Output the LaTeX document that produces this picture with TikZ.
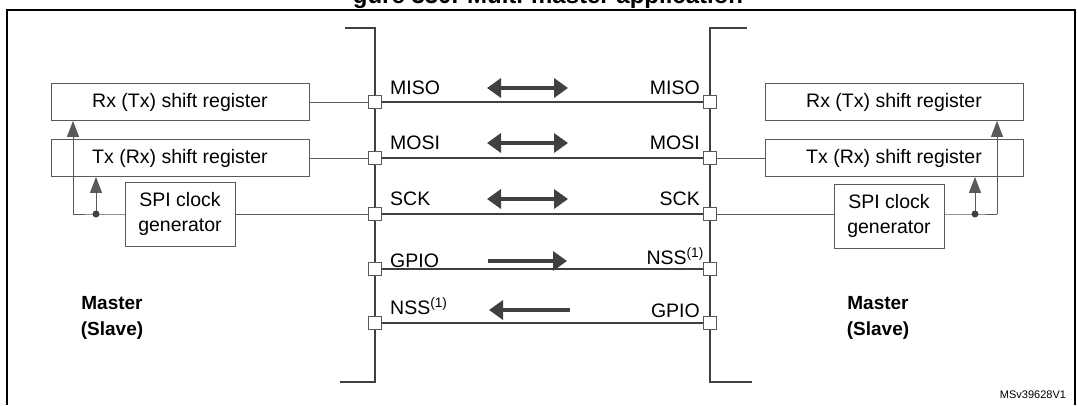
\documentclass[tikz,border=0pt]{standalone}
\usepackage{fontspec}
\setmainfont{Liberation Sans}
\usetikzlibrary{arrows.meta,positioning}
\definecolor{wire}{rgb}{0.35,0.35,0.35}
\definecolor{bus}{rgb}{0.25,0.25,0.25}
\tikzset{
  regbox/.style={draw=wire,line width=0.9pt,minimum width=258pt,minimum height=37pt,font=\fontsize{19.5}{21}\selectfont},
  clkbox/.style={draw=wire,line width=0.9pt,minimum width=110pt,minimum height=64pt,align=center,inner sep=1pt,font=\fontsize{19.5}{25}\selectfont},
  pin/.style={draw=wire,fill=white,line width=0.8pt,minimum size=13pt,inner sep=0pt},
  sig/.style={font=\fontsize{19.5}{21}\selectfont,inner sep=1pt},
  wire/.style={draw=wire,line width=0.9pt},
  link/.style={draw=bus,line width=1.6pt},
  flow/.style={draw=bus,line width=4pt,-{Triangle[length=14pt,width=19pt]}},
  flows/.style={draw=bus,line width=4pt,{Triangle[length=14pt,width=19pt]}-{Triangle[length=14pt,width=19pt]}},
  tip/.style={wire,-{Triangle[length=16pt,width=12pt]}},
  role/.style={font=\bfseries\fontsize{19}{26}\selectfont,align=center}
}
\newcommand{\one}{\textsuperscript{(1)}}
\begin{document}
\begin{tikzpicture}[x=1pt,y=-1pt]
\useasboundingbox (0,0) rectangle (1077,405);

%Title and frame
\node (title) at (548,-3) {\bfseries\fontsize{24}{26}\selectfont gure 330. Multi-master application};
\draw [line width=1.4pt] (7,405) -- (7,10) -- (1075,10) -- (1075,405);

%Buses
\draw [link] (345,28) -- (375,28) -- (375,382) -- (340,382);
\draw [link] (747,28) -- (710,28) -- (710,382) -- (752,382);

%Pins
\foreach \n/\y in {a/102,b/158,c/214,d/269,e/323}{
  \node [pin] (L\n) at (375,\y) {};
  \node [pin] (R\n) at (710,\y) {};
  \draw [link] (L\n.east) -- (R\n.west);
}

%Signal names
\node [sig,anchor=west] (lmiso) at (389,88) {MISO};
\node [sig,anchor=west] (lmosi) at (389,143) {MOSI};
\node [sig,anchor=west] (lsck) at (389,199) {SCK};
\node [sig,anchor=west] (lgpio) at (389,261) {GPIO};
\node [sig,anchor=west] (lnss) at (389,306) {NSS\one};
\node [sig,anchor=east] (rmiso) at (701,88) {MISO};
\node [sig,anchor=east] (rmosi) at (701,143) {MOSI};
\node [sig,anchor=east] (rsck) at (701,199) {SCK};
\node [sig,anchor=east] (rnss) at (705,256) {NSS\one};
\node [sig,anchor=east] (rgpio) at (701,311) {GPIO};

%Direction arrows
\coordinate (fa1) at (487,88);  \coordinate (fa2) at (568,88);
\coordinate (fb1) at (487,143); \coordinate (fb2) at (568,143);
\coordinate (fc1) at (487,199); \coordinate (fc2) at (568,199);
\coordinate (fd1) at (488,261); \coordinate (fd2) at (567,261);
\coordinate (fe1) at (570,310); \coordinate (fe2) at (489,310);
\draw [flows] (fa1) -- (fa2);
\draw [flows] (fb1) -- (fb2);
\draw [flows] (fc1) -- (fc2);
\draw [flow] (fd1) -- (fd2);
\draw [flow] (fe1) -- (fe2);

%Left device
\node [regbox] (lrx) at (180,102) {Rx (Tx) shift register};
\node [regbox] (ltx) at (180,158) {Tx (Rx) shift register};
\node [clkbox] (lclk) at (180,214) {SPI clock\\generator};
\draw [wire] (lrx.east) -- (La.west);
\draw [wire] (ltx.east) -- (Lb.west);
\draw [wire] (lclk.east) -- (Lc.west);
\coordinate (ldot) at (96,214);
\coordinate (lcorner) at (73,214);
\draw [wire] (lclk.west) -- (ldot) -- (lcorner);
\draw [tip] (lcorner) -- (lcorner |- lrx.south);
\draw [tip] (ldot) -- (ldot |- ltx.south);
\fill [bus] (ldot) circle (3.5pt);
\node [role] (lrole) at (112,318) {Master\\(Slave)};

%Right device
\node [regbox] (rrx) at (894,102) {Rx (Tx) shift register};
\node [regbox] (rtx) at (894,158) {Tx (Rx) shift register};
\node [clkbox] (rclk) at (889,216) {SPI clock\\generator};
\draw [wire] (Rb.east) -- (rtx.west);
\draw [wire] (Rc.east) -- (rclk.west |- Rc);
\coordinate (rdot) at (975,214);
\coordinate (rcorner) at (997,214);
\draw [wire] (rclk.east |- rdot) -- (rdot) -- (rcorner);
\draw [tip] (rcorner) -- (rcorner |- rrx.south);
\draw [tip] (rdot) -- (rdot |- rtx.south);
\fill [bus] (rdot) circle (3.5pt);
\node [role] (rrole) at (878,318) {Master\\(Slave)};

%Figure code
\node [font=\fontsize{11}{12}\selectfont] (code) at (1033,395) {MSv39628V1};
\end{tikzpicture}
\end{document}
